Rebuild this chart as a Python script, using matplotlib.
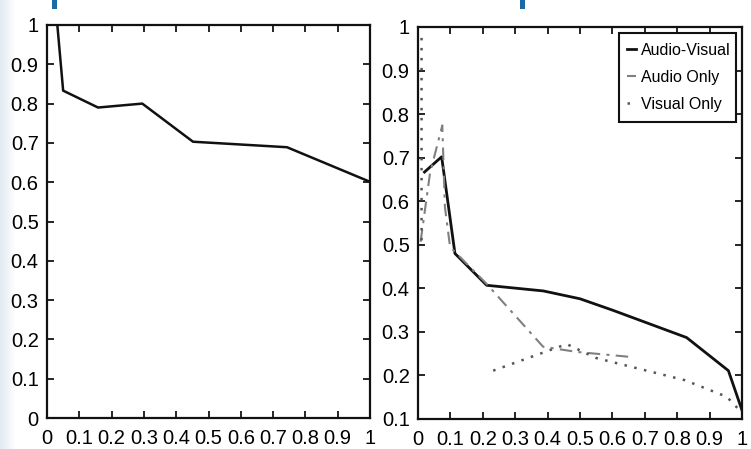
import matplotlib
matplotlib.use("Agg")
import matplotlib.pyplot as plt
import numpy as np

# ---- data ----
left_x = [0.032, 0.05, 0.158, 0.295, 0.452, 0.743, 1.0]
left_y = [1.0, 0.833, 0.79, 0.80, 0.703, 0.689, 0.601]

av_x = [0.02, 0.073, 0.114, 0.212, 0.387, 0.5, 0.6, 0.829, 0.958, 1.0]
av_y = [0.667, 0.702, 0.48, 0.407, 0.394, 0.376, 0.35, 0.287, 0.211, 0.12]

ao_x = [0.008, 0.037, 0.075, 0.083, 0.099, 0.212, 0.386, 0.49, 0.649]
ao_y = [0.507, 0.664, 0.774, 0.587, 0.495, 0.41, 0.266, 0.254, 0.243]

vo_x = [0.011, 0.011, np.nan, 0.232, 0.459, 0.55, 0.824, 0.953, 0.99]
vo_y = [0.975, 0.51, np.nan, 0.211, 0.272, 0.24, 0.189, 0.151, 0.122]

x_ticks = [0, 0.1, 0.2, 0.3, 0.4, 0.5, 0.6, 0.7, 0.8, 0.9, 1]
x_labels = ["0", "0.1", "0.2", "0.3", "0.4", "0.5", "0.6", "0.7", "0.8", "0.9", "1"]
left_y_ticks = [0, 0.1, 0.2, 0.3, 0.4, 0.5, 0.6, 0.7, 0.8, 0.9, 1]
left_y_labels = ["0", "0.1", "0.2", "0.3", "0.4", "0.5", "0.6", "0.7", "0.8", "0.9", "1"]
right_y_ticks = [0.1, 0.2, 0.3, 0.4, 0.5, 0.6, 0.7, 0.8, 0.9, 1]
right_y_labels = ["0.1", "0.2", "0.3", "0.4", "0.5", "0.6", "0.7", "0.8", "0.9", "1"]
legend_labels = ["Audio-Visual", "Audio Only", "Visual Only"]

plt.rcParams["font.family"] = ["Liberation Sans", "DejaVu Sans"]
FS = 14.5

W, H = 751, 449
fig = plt.figure(figsize=(W / 100, H / 100), dpi=100)
fig.patch.set_facecolor("white")

# scan decorations: faint blue left edge and blue bars at top
bg = fig.add_axes([0, 0, 1, 1], zorder=-5)
grad = np.linspace(1, 0, 30)[None, :]
bg.imshow(grad, extent=[0, 16 / W, 0, 1], aspect="auto",
          cmap=matplotlib.colors.LinearSegmentedColormap.from_list("g", ["white", "#e2eaf2"]),
          vmin=0, vmax=1)
bg.set_xlim(0, 1)
bg.set_ylim(0, 1)
bg.axis("off")
for bx in [52 / W, 520 / W]:
    fig.patches.append(matplotlib.patches.Rectangle((bx, 1 - 9 / H), 5 / W, 9 / H,
                                                    transform=fig.transFigure,
                                                    facecolor="#1a6aa6", edgecolor="none"))


def style(ax):
    ax.tick_params(direction="in", length=5, width=1.2, top=True, right=True,
                   labelsize=FS, pad=6)
    ax.tick_params(axis="x", pad=8)
    for s in ax.spines.values():
        s.set_linewidth(1.6)
        s.set_color("#111111")
    ax.set_xticks(x_ticks)
    ax.set_xticklabels(x_labels)
    ax.set_xlim(0, 1)


ax1 = fig.add_axes([47 / W, 1 - 418 / H, 323 / W, 393 / H])
ax1.plot(left_x, left_y, color="#111111", lw=1.8)
style(ax1)
ax1.set_ylim(0, 1)
ax1.set_yticks(left_y_ticks)
ax1.set_yticklabels(left_y_labels)

ax2 = fig.add_axes([418 / W, 1 - 419 / H, 324 / W, 392 / H])
l1, = ax2.plot(av_x, av_y, color="#111111", lw=2.0, label=legend_labels[0])
l2, = ax2.plot(ao_x, ao_y, color="#808080", lw=1.5, linestyle=(0, (6, 3, 1.5, 3)),
               label=legend_labels[1])
l3, = ax2.plot(vo_x, vo_y, color="#555555", lw=1.8, linestyle=(0, (1, 3)),
               label=legend_labels[2])
style(ax2)
ax2.set_ylim(0.1, 1)
ax2.set_yticks(right_y_ticks)
ax2.set_yticklabels(right_y_labels)

# legend box (frame drawn separately to get the tall, narrow box of the original)
bx0, bx1, by0, by1 = 619, 736, 33, 122
frame = matplotlib.patches.Rectangle((bx0 / W, 1 - by1 / H), (bx1 - bx0) / W, (by1 - by0) / H,
                                     transform=fig.transFigure, facecolor="white",
                                     edgecolor="#111111", linewidth=1.5, zorder=4,
                                     clip_on=False)
ax2.add_patch(frame)
leg = ax2.legend(handles=[l1, l2, l3], loc="center",
                 bbox_to_anchor=((bx0 + bx1) / 2 / W + 1 / W, 1 - (by0 + by1) / 2 / H),
                 bbox_transform=fig.transFigure, fontsize=11.5, frameon=False,
                 handlelength=0.6, handletextpad=0.3, borderpad=0.0, labelspacing=0.75)
leg.set_zorder(5)

fig.savefig("out.png", dpi=100)
